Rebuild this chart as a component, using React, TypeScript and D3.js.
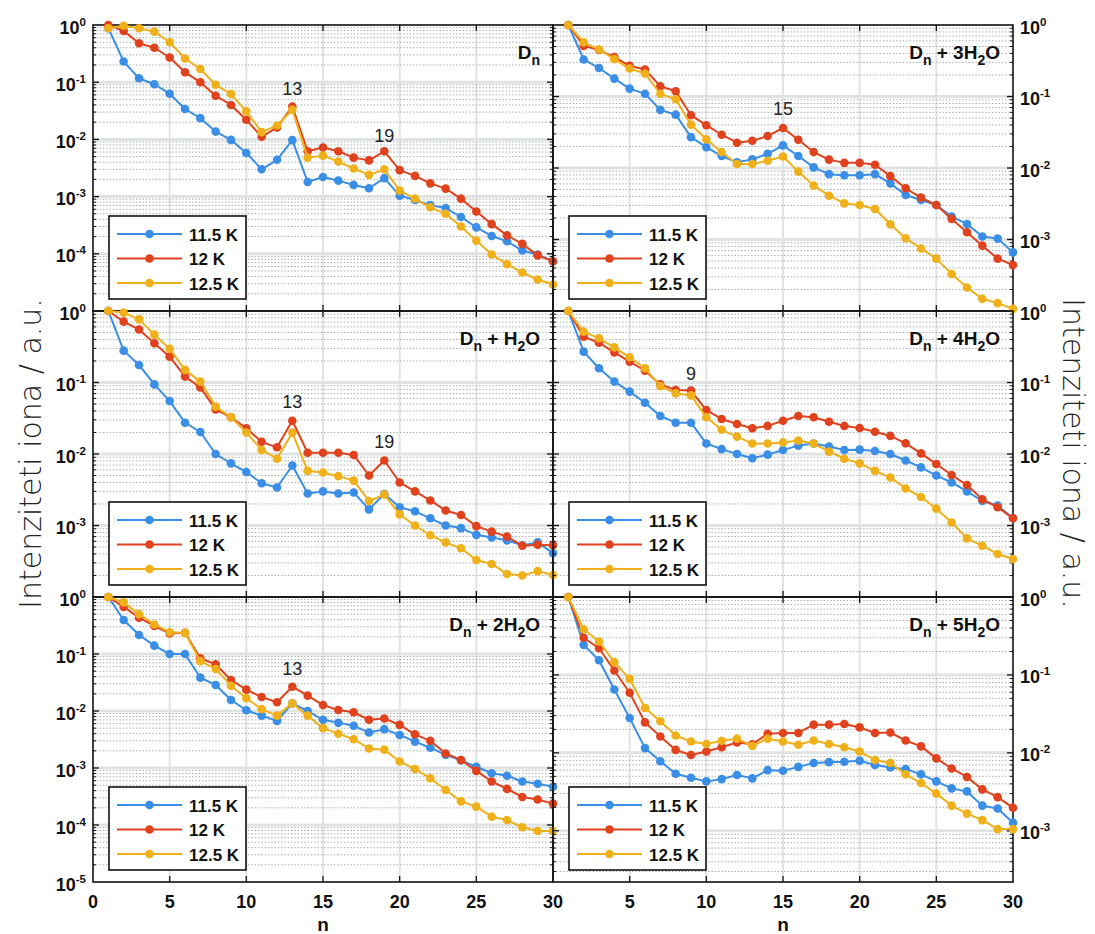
import React from 'react';
import * as d3 from 'd3';

// ---------- data ----------
const N: number[] = d3.range(1, 31);
const SERIES_LABELS = ['11.5 K', '12 K', '12.5 K'];
const SERIES_COLORS = ['#3a8ee6', '#e0421d', '#f0b019'];
const X_TICKS = [0, 5, 10, 15, 20, 25, 30];

// D_n
const dn_115 = [0.88, 0.23, 0.117, 0.092, 0.063, 0.034, 0.0235, 0.0137, 0.0098, 0.0058, 0.003, 0.0044, 0.0097, 0.0018, 0.0022, 0.0019, 0.0016, 0.0014, 0.0021, 0.00104, 0.00087, 0.00071, 0.00063, 0.00044, 0.00029, 0.000205, 0.000166, 0.000114, 0.0000975, 0.000074];
const dn_12 = [1.0, 0.79, 0.48, 0.4, 0.27, 0.149, 0.1, 0.058, 0.04, 0.022, 0.0111, 0.0162, 0.0376, 0.0062, 0.0072, 0.0062, 0.0048, 0.0043, 0.0062, 0.0029, 0.0023, 0.0017, 0.00138, 0.00092, 0.00055, 0.00033, 0.00021, 0.000149, 0.000094, 0.000074];
const dn_125 = [0.875, 0.97, 0.875, 0.765, 0.5, 0.26, 0.17, 0.09, 0.062, 0.031, 0.0134, 0.0175, 0.0329, 0.0048, 0.0052, 0.0041, 0.0031, 0.0024, 0.003, 0.00127, 0.00092, 0.00065, 0.0005, 0.0003, 0.00017, 0.0000975, 0.000066, 0.000047, 0.0000355, 0.000029];

// D_n + H2O
const h1_115 = [1, 0.279, 0.176, 0.094, 0.055, 0.0274, 0.0203, 0.01, 0.0074, 0.0056, 0.0039, 0.0034, 0.0069, 0.0028, 0.003, 0.0028, 0.0029, 0.00168, 0.00276, 0.0018, 0.00158, 0.00126, 0.001, 0.00092, 0.00074, 0.00068, 0.00062, 0.00053, 0.00058, 0.00041];
const h1_12 = [1, 0.71, 0.55, 0.353, 0.23, 0.121, 0.0855, 0.042, 0.0326, 0.0229, 0.0148, 0.0124, 0.0292, 0.0104, 0.0104, 0.0104, 0.0097, 0.005, 0.0081, 0.004, 0.003, 0.00224, 0.00162, 0.0014, 0.00098, 0.00082, 0.0007, 0.00052, 0.00054, 0.00053];
const h1_125 = [1, 0.95, 0.764, 0.467, 0.297, 0.15, 0.103, 0.046, 0.0326, 0.02, 0.0114, 0.0086, 0.0199, 0.0058, 0.0055, 0.0049, 0.00424, 0.0022, 0.0027, 0.00143, 0.001, 0.00073, 0.00058, 0.00048, 0.00033, 0.00029, 0.00021, 0.0002, 0.00023, 0.000203];

// D_n + 2H2O
const h2_115 = [1, 0.395, 0.216, 0.14, 0.1, 0.1, 0.0385, 0.0286, 0.0156, 0.0103, 0.0083, 0.0067, 0.0136, 0.01, 0.007, 0.0062, 0.0055, 0.0042, 0.0048, 0.0038, 0.0029, 0.00227, 0.0017, 0.00136, 0.00105, 0.00081, 0.00073, 0.00058, 0.00053, 0.00047];
const h2_12 = [1, 0.67, 0.434, 0.31, 0.23, 0.235, 0.084, 0.066, 0.035, 0.0237, 0.0176, 0.0142, 0.0267, 0.0186, 0.0127, 0.0104, 0.0095, 0.007, 0.0074, 0.0057, 0.0039, 0.003, 0.0018, 0.00138, 0.00089, 0.00058, 0.00043, 0.00031, 0.00028, 0.000237];
const h2_125 = [1, 0.805, 0.5, 0.33, 0.24, 0.235, 0.075, 0.0546, 0.0278, 0.0167, 0.0108, 0.0083, 0.0136, 0.0083, 0.005, 0.004, 0.0032, 0.0022, 0.0021, 0.0013, 0.00096, 0.00066, 0.00041, 0.00026, 0.00021, 0.00014, 0.000122, 0.0000912, 0.0000785, 0.0000785];

// D_n + 3H2O
const h3_115 = [1, 0.33, 0.25, 0.178, 0.129, 0.109, 0.065, 0.0557, 0.027, 0.0196, 0.0147, 0.012, 0.0132, 0.0158, 0.0207, 0.0147, 0.0102, 0.0082, 0.0079, 0.0079, 0.0082, 0.0061, 0.0042, 0.00357, 0.00304, 0.00209, 0.00165, 0.0011, 0.00103, 0.00066];
const h3_12 = [1, 0.51, 0.446, 0.355, 0.269, 0.239, 0.139, 0.1185, 0.0546, 0.0397, 0.0292, 0.0226, 0.024, 0.028, 0.0363, 0.0248, 0.0167, 0.0131, 0.0118, 0.0118, 0.0111, 0.0077, 0.0052, 0.00385, 0.00304, 0.00194, 0.00126, 0.00082, 0.00054, 0.00044];
const h3_125 = [1, 0.571, 0.455, 0.333, 0.246, 0.21, 0.109, 0.0913, 0.0404, 0.0251, 0.0167, 0.0114, 0.0114, 0.0126, 0.0145, 0.0089, 0.0057, 0.0041, 0.0032, 0.00304, 0.00267, 0.00163, 0.00104, 0.00075, 0.00054, 0.00033, 0.000213, 0.000148, 0.000129, 0.000107];

// D_n + 4H2O
const h4_115 = [1, 0.27, 0.158, 0.103, 0.0745, 0.052, 0.034, 0.0274, 0.0274, 0.014, 0.0117, 0.01, 0.0087, 0.0098, 0.0114, 0.0131, 0.014, 0.0127, 0.0114, 0.0115, 0.011, 0.01, 0.0081, 0.0065, 0.005, 0.004, 0.003, 0.0022, 0.0019, 0.00127];
const h4_12 = [1, 0.437, 0.36, 0.264, 0.196, 0.146, 0.094, 0.0785, 0.077, 0.0412, 0.0309, 0.0263, 0.0229, 0.0247, 0.0292, 0.034, 0.0326, 0.0283, 0.0247, 0.0231, 0.0205, 0.0179, 0.0141, 0.0102, 0.00724, 0.00508, 0.00368, 0.00232, 0.0018, 0.00126];
const h4_125 = [1, 0.514, 0.415, 0.31, 0.225, 0.158, 0.089, 0.0705, 0.066, 0.0326, 0.0218, 0.0175, 0.014, 0.014, 0.0145, 0.0154, 0.014, 0.0108, 0.0086, 0.0074, 0.0058, 0.0047, 0.0033, 0.0025, 0.00172, 0.0011, 0.00066, 0.00052, 0.0004, 0.00034];

// D_n + 5H2O
const h5_115 = [1, 0.243, 0.154, 0.065, 0.028, 0.0115, 0.0078, 0.0054, 0.0048, 0.0043, 0.0046, 0.0052, 0.0047, 0.006, 0.0059, 0.0066, 0.0074, 0.0076, 0.0077, 0.0079, 0.007, 0.0065, 0.0062, 0.0053, 0.0043, 0.0035, 0.0032, 0.0021, 0.00193, 0.00127];
const h5_12 = [1, 0.3, 0.22, 0.114, 0.059, 0.0246, 0.0162, 0.0109, 0.0094, 0.0104, 0.0118, 0.0136, 0.0129, 0.0176, 0.018, 0.018, 0.023, 0.023, 0.0235, 0.0212, 0.018, 0.0182, 0.0144, 0.0121, 0.0085, 0.0063, 0.0049, 0.0034, 0.0027, 0.00197];
const h5_125 = [1, 0.386, 0.268, 0.146, 0.089, 0.0377, 0.0254, 0.0167, 0.014, 0.013, 0.0143, 0.0152, 0.0123, 0.0152, 0.014, 0.0127, 0.0144, 0.013, 0.0118, 0.0104, 0.0081, 0.0074, 0.0053, 0.0041, 0.003, 0.0021, 0.00166, 0.00137, 0.00105, 0.00105];

// panel titles
type Piece = { t: string; sub?: boolean };
const T_DN: Piece[] = [{ t: 'D' }, { t: 'n', sub: true }];
const T_H1: Piece[] = [{ t: 'D' }, { t: 'n', sub: true }, { t: ' + H' }, { t: '2', sub: true }, { t: 'O' }];
const T_H2: Piece[] = [{ t: 'D' }, { t: 'n', sub: true }, { t: ' + 2H' }, { t: '2', sub: true }, { t: 'O' }];
const T_H3: Piece[] = [{ t: 'D' }, { t: 'n', sub: true }, { t: ' + 3H' }, { t: '2', sub: true }, { t: 'O' }];
const T_H4: Piece[] = [{ t: 'D' }, { t: 'n', sub: true }, { t: ' + 4H' }, { t: '2', sub: true }, { t: 'O' }];
const T_H5: Piece[] = [{ t: 'D' }, { t: 'n', sub: true }, { t: ' + 5H' }, { t: '2', sub: true }, { t: 'O' }];

// annotations (n, value)
const ANN_DN = [{ n: 13, v: 0.06, t: '13' }, { n: 19, v: 0.009, t: '19' }];
const ANN_H1 = [{ n: 13, v: 0.044, t: '13' }, { n: 19, v: 0.0121, t: '19' }];
const ANN_H2 = [{ n: 13, v: 0.043, t: '13' }];
const ANN_H3 = [{ n: 15, v: 0.0546, t: '15' }];
const ANN_H4 = [{ n: 9, v: 0.108, t: '9' }];
const ANN_H5: { n: number; v: number; t: string }[] = [];

// ---------- layout ----------
const W = 1095;
const H = 934;
const COLS: [number, number][] = [[93, 553], [553, 1013]];
const ROWS: [number, number][] = [[25, 311], [311, 597], [597, 882]];
const FONT = '"Liberation Sans", Arial, sans-serif';

type Panel = {
  col: number;
  row: number;
  ymin: number;
  title: Piece[];
  series: number[][];
  ann: { n: number; v: number; t: string }[];
};

const PANELS: Panel[] = [
  { col: 0, row: 0, ymin: 1e-5, title: T_DN, series: [dn_115, dn_12, dn_125], ann: ANN_DN },
  { col: 1, row: 0, ymin: 1e-4, title: T_H3, series: [h3_115, h3_12, h3_125], ann: ANN_H3 },
  { col: 0, row: 1, ymin: 1e-4, title: T_H1, series: [h1_115, h1_12, h1_125], ann: ANN_H1 },
  { col: 1, row: 1, ymin: 1e-4, title: T_H4, series: [h4_115, h4_12, h4_125], ann: ANN_H4 },
  { col: 0, row: 2, ymin: 1e-5, title: T_H2, series: [h2_115, h2_12, h2_125], ann: ANN_H2 },
  { col: 1, row: 2, ymin: 2.2e-4, title: T_H5, series: [h5_115, h5_12, h5_125], ann: ANN_H5 },
];

function PanelView({ p }: { p: Panel }) {
  const [x0, x1] = COLS[p.col];
  const [y0, y1] = ROWS[p.row];
  const x = d3.scaleLinear().domain([0, 30]).range([x0, x1]);
  const y = d3.scaleLog().domain([p.ymin, 1]).range([y1, y0]);
  const lo = Math.floor(Math.log10(p.ymin));
  const minor: number[] = [];
  const major: number[] = [];
  for (let e = lo; e <= 0; e++) {
    const d = Math.pow(10, e);
    if (d > p.ymin * 1.0001 && e < 0) major.push(d);
    for (let k = 2; k <= 9; k++) {
      const v = k * d;
      if (v > p.ymin * 1.0001 && v < 1) minor.push(v);
    }
  }
  const labels: number[] = [];
  for (let e = lo; e <= 0; e++) {
    const d = Math.pow(10, e);
    if (d < p.ymin * 0.9999) continue;
    if (Math.abs(d - p.ymin) / p.ymin < 1e-6 && p.row !== 2) continue;
    labels.push(e);
  }
  const xLabels = p.col === 0 ? X_TICKS : X_TICKS.filter((t) => t > 0);
  const line = d3
    .line<number>()
    .x((_, i) => x(N[i]))
    .y((v) => y(v));
  const left = p.col === 0;
  const axisX = left ? x0 : x1;
  const lgX = x0 + 16;
  const lgW = 137;
  const lgH = 83;
  const lgY = y1 - 12 - lgH;
  return (
    <g>
      {/* major grid */}
      {major.map((v, i) => (
        <line key={'mj' + i} x1={x0} x2={x1} y1={y(v)} y2={y(v)} stroke="#dfe3e3" strokeWidth={3} />
      ))}
      {X_TICKS.filter((t) => t > 0 && t < 30).map((t) => (
        <line key={'vx' + t} x1={x(t)} x2={x(t)} y1={y0} y2={y1} stroke="#dfe3e3" strokeWidth={2} />
      ))}
      {/* minor grid */}
      {minor.map((v, i) => (
        <line key={'mn' + i} x1={x0} x2={x1} y1={y(v)} y2={y(v)} stroke="#a9adad" strokeWidth={1} strokeDasharray="1.5,1.8" />
      ))}
      {/* ticks */}
      {minor.map((v, i) => (
        <g key={'mt' + i}>
          <line x1={x0} x2={x0 + 3} y1={y(v)} y2={y(v)} stroke="#111" strokeWidth={1} />
          <line x1={x1} x2={x1 - 3} y1={y(v)} y2={y(v)} stroke="#111" strokeWidth={1} />
        </g>
      ))}
      {major.map((v, i) => (
        <g key={'Mt' + i}>
          <line x1={x0} x2={x0 + 6} y1={y(v)} y2={y(v)} stroke="#111" strokeWidth={1.3} />
          <line x1={x1} x2={x1 - 6} y1={y(v)} y2={y(v)} stroke="#111" strokeWidth={1.3} />
        </g>
      ))}
      {X_TICKS.filter((t) => t > 0 && t < 30).map((t) => (
        <g key={'xt' + t}>
          <line x1={x(t)} x2={x(t)} y1={y1} y2={y1 - 6} stroke="#111" strokeWidth={1.3} />
          <line x1={x(t)} x2={x(t)} y1={y0} y2={y0 + 6} stroke="#111" strokeWidth={1.3} />
        </g>
      ))}
      {/* y labels */}
      {labels.map((e) => (
        <text
          key={'yl' + e}
          x={left ? axisX - 7 : axisX + 7}
          y={y(Math.pow(10, e)) + 8.5}
          textAnchor={left ? 'end' : 'start'}
          fontFamily={FONT}
          fontWeight="bold"
          fontSize={18}
          fill="#111"
        >
          10
          <tspan fontSize={11.5} dy={-8}>
            {String(e)}
          </tspan>
        </text>
      ))}
      {/* x labels */}
      {p.row === 2 &&
        xLabels.map((t) => (
          <text key={'xl' + t} x={x(t)} y={908} textAnchor="middle" fontFamily={FONT} fontWeight="bold" fontSize={18} fill="#111">
            {t}
          </text>
        ))}
      {/* box */}
      <rect x={x0} y={y0} width={x1 - x0} height={y1 - y0} fill="none" stroke="#111" strokeWidth={1.6} />
      {/* title */}
      <text x={x1 - 13} y={y0 + 34} textAnchor="end" fontFamily={FONT} fontWeight="bold" fontSize={19} fill="#111">
        {p.title.map((pc, i) => {
          const prevSub = i > 0 && p.title[i - 1].sub;
          const dy = pc.sub ? 6 : prevSub ? -6 : 0;
          return (
            <tspan key={i} fontSize={pc.sub ? 14 : 19} dy={dy}>
              {pc.t}
            </tspan>
          );
        })}
      </text>
      {/* annotations */}
      {p.ann.map((a) => (
        <text key={'an' + a.t} x={x(a.n)} y={y(a.v)} textAnchor="middle" fontFamily={FONT} fontSize={18} fill="#222">
          {a.t}
        </text>
      ))}
      {/* series */}
      {p.series.map((s, si) => (
        <g key={'s' + si}>
          <path d={line(s) || ''} fill="none" stroke={SERIES_COLORS[si]} strokeWidth={2} strokeLinejoin="round" />
          {s.map((v, i) => (
            <circle key={i} cx={x(N[i])} cy={y(v)} r={4.3} fill={SERIES_COLORS[si]} />
          ))}
        </g>
      ))}
      {/* legend */}
      <rect x={lgX} y={lgY} width={lgW} height={lgH} fill="#fff" stroke="#111" strokeWidth={1.6} />
      {SERIES_LABELS.map((lab, i) => {
        const ly = lgY + 18 + i * 24.5;
        return (
          <g key={'lg' + i}>
            <line x1={lgX + 8} x2={lgX + 73} y1={ly} y2={ly} stroke={SERIES_COLORS[i]} strokeWidth={2} />
            <circle cx={lgX + 40.5} cy={ly} r={4.3} fill={SERIES_COLORS[i]} />
            <text x={lgX + 80} y={ly + 6.5} fontFamily={FONT} fontWeight="bold" fontSize={17} fill="#111">
              {lab}
            </text>
          </g>
        );
      })}
    </g>
  );
}

export default function App() {
  const yMid = (ROWS[0][0] + ROWS[2][1]) / 2;
  return (
    <svg width={W} height={H} style={{ position: 'absolute', left: 0, top: 0, background: '#fff' }}>
      <rect x={0} y={0} width={W} height={H} fill="#fff" />
      {PANELS.map((p, i) => (
        <PanelView key={i} p={p} />
      ))}
      {COLS.map((c, i) => (
        <text key={'n' + i} x={(c[0] + c[1]) / 2} y={931} textAnchor="middle" fontFamily={FONT} fontWeight="bold" fontSize={19} fill="#111">
          n
        </text>
      ))}
      <text
        transform={`translate(41, ${yMid}) rotate(-90)`}
        textAnchor="middle"
        fontFamily='"DejaVu Sans", sans-serif'
        fontWeight={300}
        fontSize={30}
        fill="#222"
      >
        Intenziteti iona / a.u.
      </text>
      <text
        transform={`translate(1063, ${yMid}) rotate(90)`}
        textAnchor="middle"
        fontFamily='"DejaVu Sans", sans-serif'
        fontWeight={300}
        fontSize={30}
        fill="#222"
      >
        Intenziteti iona / a.u.
      </text>
    </svg>
  );
}
